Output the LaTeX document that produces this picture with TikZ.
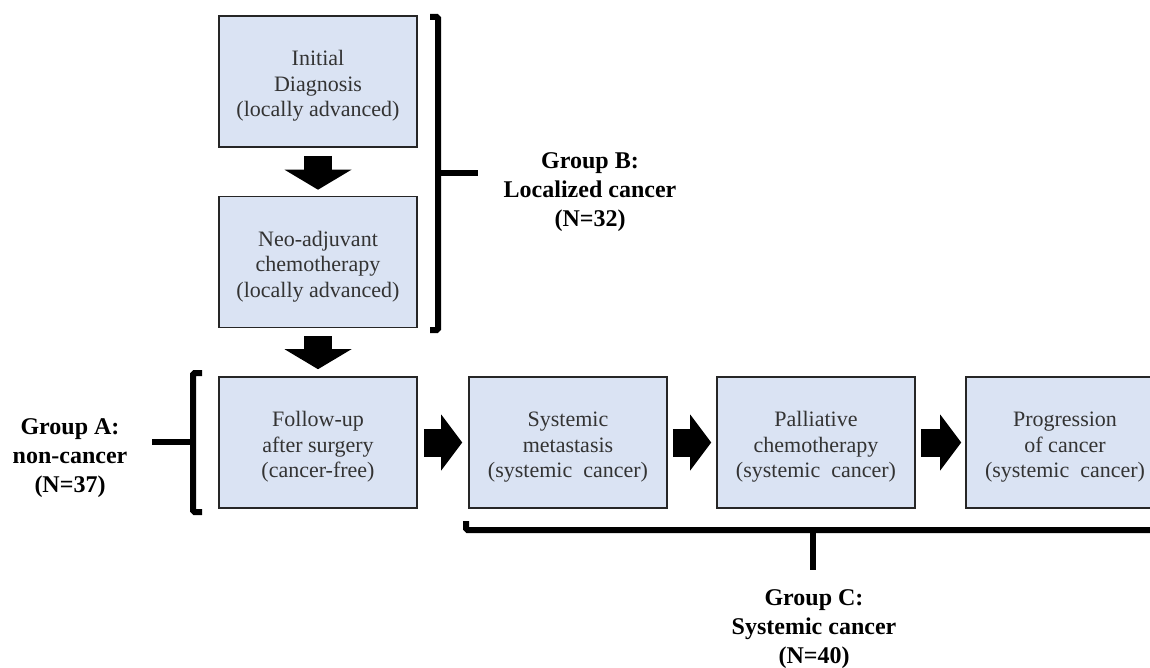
\documentclass[tikz,border=0pt]{standalone}
\usepackage{fontspec}
\setmainfont{Liberation Serif}
\usetikzlibrary{arrows.meta}
\definecolor{boxblue}{HTML}{DAE3F3}
\newcommand{\topgap}{\rule{0pt}{24pt}}
\tikzset{
	stage/.style={shape=rectangle, draw=black!85, line width=1.6pt, fill=boxblue, minimum width=198pt, minimum height=131pt, align=center, text=black!80, font=\fontsize{22}{25.5}\selectfont},
	group/.style={align=center, font=\fontsize{24}{29}\selectfont\bfseries},
	fatdown/.style={line width=28pt, -{Triangle[width=67pt, length=20pt, line width=0pt]}},
	fatright/.style={line width=28pt, -{Triangle[width=56pt, length=21pt, line width=0pt]}},
	bracket/.style={line width=6pt, rounded corners=1.5pt}
}

\begin{document}
\begin{tikzpicture}[x=1pt, y=-1pt]
	\useasboundingbox (0,0) rectangle (1150,668);
	\clip (0,0) rectangle (1150,668);
	% stages
	\node[stage](diag) at (318, 81.5){\topgap Initial\\Diagnosis\\(locally advanced)};
	\node[stage](neo) at (318, 262){\topgap Neo-adjuvant\\chemotherapy\\(locally advanced)};
	\node[stage](follow) at (318, 442.5){\topgap Follow-up\\after surgery\\(cancer-free)};
	\node[stage](meta) at (568, 442.5){\topgap Systemic\\metastasis\\(systemic\ \ cancer)};
	\node[stage](palli) at (816, 442.5){\topgap Palliative\\chemotherapy\\(systemic\ \ cancer)};
	\node[stage](progr) at (1065, 442.5){\topgap Progression\\of cancer\\(systemic\ \ cancer)};
	\draw[fatdown] ([yshift=-8pt]diag.south) -- ([yshift=6pt]neo.north);
	\draw[fatdown] ([yshift=-8pt]neo.south) -- ([yshift=7pt]follow.north);
	\draw[fatright] ([xshift=6pt]follow.east) -- ([xshift=-6pt]meta.west);
	\draw[fatright] ([xshift=5pt]meta.east) -- ([xshift=-5pt]palli.west);
	\draw[fatright] ([xshift=5pt]palli.east) -- ([xshift=-4pt]progr.west);
	% groups
	\node[group](grpB) at (590, 192){Group B:\\Localized cancer\\(N=32)};
	\node[group](grpA) at (70, 458){Group A:\\non-cancer\\(N=37)};
	\node[group](grpC) at (814, 629){Group C:\\Systemic cancer\\(N=40)};
	\coordinate (bB) at (438, 173);
	\coordinate (bA) at (193, 442);
	\coordinate (bC) at (813, 530);
	\draw[bracket] (430, 17) -| (438, 330) -- (430, 330);
	\draw[bracket] (bB) -- ++(40, 0);
	\draw[bracket] (202, 373) -| (193, 512) -- (202, 512);
	\draw[bracket] (bA) -- ++(-41, 0);
	\draw[bracket] (466, 521) |- (1160, 530);
	\draw[bracket] (bC) -- ++(0, 40);
\end{tikzpicture}
\end{document}
